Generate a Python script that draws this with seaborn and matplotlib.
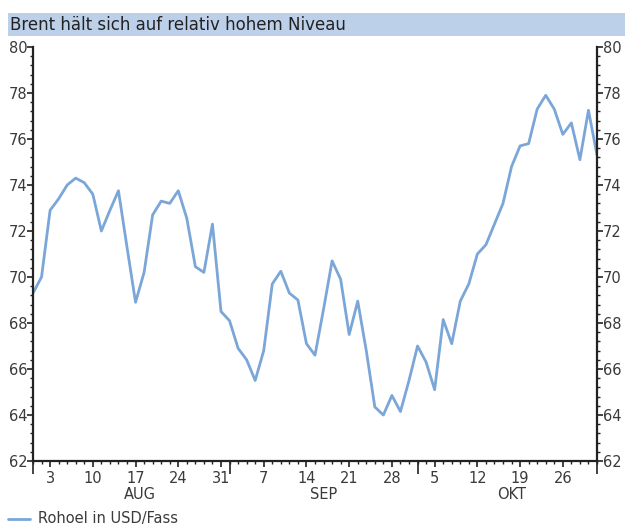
import numpy as np
import pandas as pd
import matplotlib
matplotlib.use("Agg")
import matplotlib.pyplot as plt
import matplotlib.transforms as mtransforms
from matplotlib.patches import Rectangle
from matplotlib import font_manager
import seaborn as sns

# ---------------- data ----------------
dates = pd.bdate_range("2009-07-30", "2009-10-30")
price = [69.3, 70.0, 72.9, 73.4, 74.0, 74.3, 74.1, 73.6, 72.0, 72.9,
         73.75, 71.3, 68.9, 70.2, 72.7, 73.3, 73.2, 73.75, 72.55, 70.45,
         70.2, 72.3, 68.5, 68.1, 66.9, 66.4, 65.5, 66.8, 69.7, 70.25,
         69.3, 69.0, 67.1, 66.6, 68.6, 70.7, 69.9, 67.5, 68.95, 66.8,
         64.35, 64.0, 64.85, 64.15, 65.5, 67.0, 66.3, 65.1, 68.15, 67.1,
         68.95, 69.7, 71.0, 71.4, 72.3, 73.2, 74.8, 75.7, 75.8, 77.3,
         77.9, 77.3, 76.2, 76.7, 75.1, 77.25, 75.3]
month_names = ["AUG", "SEP", "OKT"]
title = "Brent hält sich auf relativ hohem Niveau"
series_name = "Rohoel in USD/Fass"
y_ticks = [62, 64, 66, 68, 70, 72, 74, 76, 78, 80]

df = pd.DataFrame({"k": np.arange(len(dates)), "date": dates, "price": price})

# ---------------- style ----------------
sns.set_style("ticks")
def pick(fam):
    try:
        font_manager.findfont(fam, fallback_to_default=False)
        return fam
    except Exception:
        return "DejaVu Sans"
narrow = pick("Liberation Sans Narrow")
plt.rcParams["font.family"] = [narrow, "DejaVu Sans"]

LINE = "#7aa6d8"
TXT = "#3a3a3a"

fig = plt.figure(figsize=(6.25, 5.3), dpi=100)
ax = fig.add_axes([33 / 625, 1 - 461 / 530, (597 - 33) / 625, (461 - 47) / 530])

sns.lineplot(data=df, x="k", y="price", ax=ax, color=LINE, linewidth=2.0,
             legend=False)

ax.set_xlim(0, len(dates) - 1)
ax.set_ylim(62, 80)
ax.set_xlabel("")
ax.set_ylabel("")

# spines
ax.spines["top"].set_visible(False)
for s in ["left", "right", "bottom"]:
    ax.spines[s].set_visible(True)
    ax.spines[s].set_color("#222222")
    ax.spines[s].set_linewidth(1.6)

# y ticks both sides
ax.set_yticks(y_ticks)
ax.set_yticklabels([str(v) for v in y_ticks])
ax.set_yticks(np.arange(62, 80.01, 0.4), minor=True)
ax.tick_params(axis="y", which="both", left=True, right=True,
               labelleft=True, labelright=True, direction="out",
               colors="#222222", labelcolor=TXT, labelsize=10.5, pad=0)
ax.tick_params(axis="y", which="major", length=4, width=1.2)
ax.tick_params(axis="y", which="minor", length=2.5, width=1.0)

# x ticks: Mondays labelled, each business day minor
mondays = df[df["date"].dt.dayofweek == 0]
ax.set_xticks(mondays["k"].tolist())
ax.set_xticklabels([str(d.day) for d in mondays["date"]])
ax.set_xticks(df["k"].tolist(), minor=True)
ax.tick_params(axis="x", which="major", direction="out", length=4, width=1.2,
               colors="#222222", labelcolor=TXT, labelsize=10.5, pad=3)
ax.tick_params(axis="x", which="minor", direction="out", length=2.2, width=1.0,
               colors="#222222")

# month boundaries (long ticks) via secondary axis
month_start = df.groupby(df["date"].dt.month)["k"].min()
bounds = [0] + [int(v) for v in month_start.values[2:]] + [len(dates) - 1]
sec = ax.secondary_xaxis("bottom")
sec.set_xticks(bounds)
sec.set_xticklabels([""] * len(bounds))
sec.tick_params(axis="x", direction="out", length=9, width=1.2, colors="#222222")
sec.spines["bottom"].set_visible(False)

# month labels centred below
trans = mtransforms.blended_transform_factory(ax.transData, ax.transAxes)
for m, name in zip([8, 9, 10], month_names):
    ks = df.loc[df["date"].dt.month == m, "k"]
    ax.text((ks.min() + ks.max()) / 2 + 0.5, -0.064, name, transform=trans,
            ha="center", va="top", fontsize=10.5, color=TXT)

# title band
fig.patches.append(Rectangle((8 / 625, 1 - 36 / 530), 617 / 625, 23 / 530,
                             transform=fig.transFigure, facecolor="#bdd0ea",
                             edgecolor="none", zorder=0))
fig.text(10 / 625, 1 - 25 / 530, title, ha="left", va="center",
         fontsize=12, color="#222222", family="DejaVu Sans")

# legend
fig.add_artist(plt.Line2D([8 / 625, 30 / 625], [1 - 519 / 530, 1 - 519 / 530],
                          transform=fig.transFigure, color=LINE, linewidth=2.0))
fig.text(38 / 625, 1 - 519 / 530, series_name, ha="left", va="center",
         fontsize=10.5, color=TXT)

fig.savefig("out.png", dpi=100)
